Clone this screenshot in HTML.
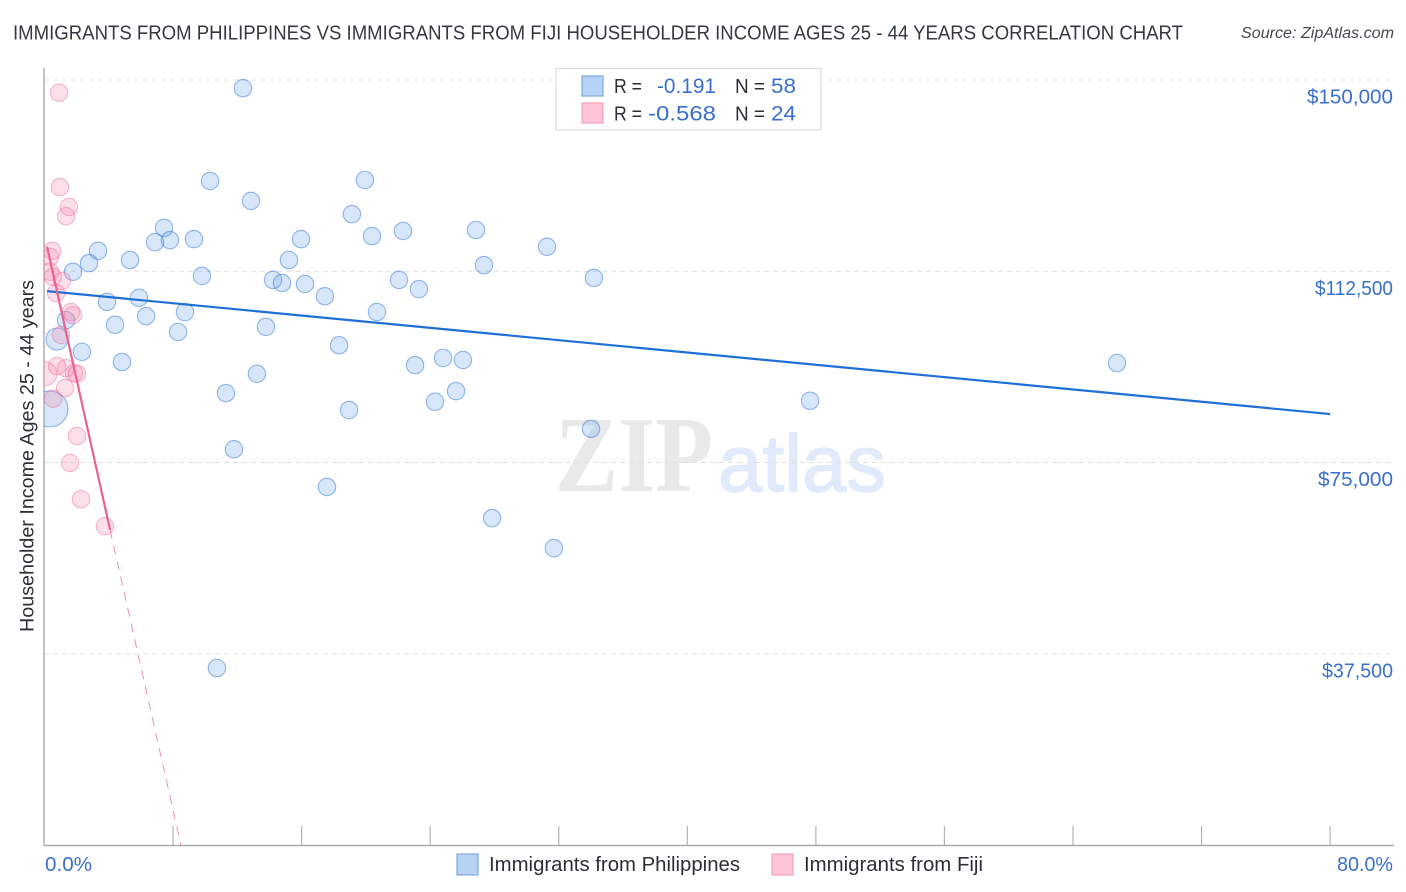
<!DOCTYPE html>
<html lang="en">
<head>
<meta charset="utf-8">
<title>Immigrants from Philippines vs Immigrants from Fiji Householder Income Correlation Chart</title>
<style>
html,body{margin:0;padding:0;background:#fff;width:1406px;height:892px;overflow:hidden}
svg{display:block}
text{font-family:"Liberation Sans",sans-serif}
</style>
</head>
<body>
<svg id="chart" xmlns="http://www.w3.org/2000/svg" width="1406" height="892" viewBox="0 0 1406 892">
  <defs>
    <clipPath id="plot-clip"><rect x="44" y="60" width="1350" height="785"/></clipPath>
  </defs>
  <rect x="0" y="0" width="1406" height="892" fill="#ffffff"/>
  <text x="13" y="39.5" font-size="20" fill="#333a41" textLength="1170" lengthAdjust="spacingAndGlyphs">IMMIGRANTS FROM PHILIPPINES VS IMMIGRANTS FROM FIJI HOUSEHOLDER INCOME AGES 25 - 44 YEARS CORRELATION CHART</text>
  <text x="1394" y="38" font-size="15.5" font-style="italic" fill="#444b52" text-anchor="end" textLength="153" lengthAdjust="spacingAndGlyphs">Source: ZipAtlas.com</text>

  <g>
    <text x="555" y="491" font-size="108" font-weight="bold" fill="#e9e9e9" textLength="158" lengthAdjust="spacingAndGlyphs" style="font-family:'Liberation Serif',serif">ZIP</text>
    <text x="718" y="491" font-size="80" fill="#e0eafa" stroke="#e0eafa" stroke-width="1.5" textLength="168" lengthAdjust="spacingAndGlyphs">atlas</text>
  </g>

  <g id="grid"></g>
  <g id="axes"></g>
  <g id="marks-blue" clip-path="url(#plot-clip)"></g>
  <g id="marks-pink" clip-path="url(#plot-clip)"></g>
  <g id="lines"></g>
  <g id="ticklabels"></g>

  <text transform="translate(33.5,456) rotate(-90)" font-size="19" fill="#2b3036" text-anchor="middle" textLength="352" lengthAdjust="spacingAndGlyphs">Householder Income Ages 25 - 44 years</text>

  <g>
    <rect x="556" y="68.5" width="265" height="61.5" fill="#ffffff" stroke="#dcdcdc" stroke-width="1.2"/>
    <rect x="582" y="76" width="21" height="20" fill="#b6d3f6" stroke="#7fa9e0" stroke-width="1.2"/>
    <rect x="582" y="103" width="21" height="20" fill="#fcc5d7" stroke="#f4a3bf" stroke-width="1.2"/>
    <text x="614" y="93" font-size="20" fill="#2b3036" textLength="28" lengthAdjust="spacingAndGlyphs">R =</text>
    <text x="716" y="93" font-size="21" fill="#3a70cc" text-anchor="end" textLength="59" lengthAdjust="spacingAndGlyphs">-0.191</text>
    <text x="735" y="93" font-size="20" fill="#2b3036" textLength="30" lengthAdjust="spacingAndGlyphs">N =</text>
    <text x="796" y="93" font-size="21" fill="#3a70cc" text-anchor="end" textLength="25" lengthAdjust="spacingAndGlyphs">58</text>
    <text x="614" y="120.5" font-size="20" fill="#2b3036" textLength="28" lengthAdjust="spacingAndGlyphs">R =</text>
    <text x="716" y="120.5" font-size="21" fill="#3a70cc" text-anchor="end" textLength="68" lengthAdjust="spacingAndGlyphs">-0.568</text>
    <text x="735" y="120.5" font-size="20" fill="#2b3036" textLength="30" lengthAdjust="spacingAndGlyphs">N =</text>
    <text x="796" y="120.5" font-size="21" fill="#3a70cc" text-anchor="end" textLength="25" lengthAdjust="spacingAndGlyphs">24</text>
  </g>

  <g>
    <g>
      <rect x="457" y="854" width="21" height="21" fill="#b6d3f6" stroke="#7fa9e0" stroke-width="1.2"/>
      <text x="489" y="871" font-size="20" fill="#2b3036" textLength="251" lengthAdjust="spacingAndGlyphs">Immigrants from Philippines</text>
    </g>
    <g>
      <rect x="772" y="854" width="21" height="21" fill="#fcc5d7" stroke="#f4a3bf" stroke-width="1.2"/>
      <text x="804" y="871" font-size="20" fill="#2b3036" textLength="179" lengthAdjust="spacingAndGlyphs">Immigrants from Fiji</text>
    </g>
  </g>
</svg>
<script>
// Chart data: x = share of immigrants (%), y = householder income ($ thousands), w = relative population weight
const blueX = [12.35,10.30,12.85,19.94,19.13,7.44,6.88,7.81,9.30,3.33,2.77,5.32,1.77,9.80,14.22,14.78,15.21,15.96,16.21,17.45,20.38,22.31,22.06,23.30,26.85,27.35,31.27,34.19,3.89,5.88,6.32,4.39,8.74,8.31,13.78,20.69,1.34,0.78,2.33,4.82,18.33,13.22,23.06,24.80,26.04,11.29,18.95,24.30,25.61,11.79,17.58,34.01,47.64,66.74,27.85,31.70,10.73,0.34];
const blueY = [148.4,130.2,126.3,130.4,123.7,121.0,118.2,118.6,118.8,116.5,114.1,114.7,112.4,111.6,110.8,110.2,114.7,118.8,110.0,107.6,119.4,120.4,110.8,109.0,120.6,113.7,117.3,111.2,106.5,107.3,103.7,102.0,104.5,100.6,101.6,104.5,102.9,99.2,96.7,94.7,98.0,92.4,94.1,95.5,95.1,88.6,85.3,86.9,89.0,77.6,70.2,81.6,87.1,94.5,64.1,58.2,34.7,85.5];
const blueW = [1,1,1,1,1,1,1,1,1,1,1,1,1,1,1,1,1,1,1,1,1,1,1,1,1,1,1,1,1,1,1,1,1,1,1,1,1,1.6,1,1,1,1,1,1,1,1,1,1,1,1,1,1,1,1,1,1,1,4.3];
const pinkX = [0.90,0.96,1.52,1.34,0.47,0.34,0.34,0.53,1.09,0.72,1.65,1.77,1.03,0.78,1.34,1.84,2.02,0.03,1.28,0.53,2.02,1.59,2.27,3.76];
const pinkY = [147.5,129.0,125.1,123.3,116.5,115.3,112.4,111.4,110.6,108.2,104.5,103.9,100.0,93.9,93.5,92.5,92.4,92.4,89.6,87.5,80.2,74.9,67.8,62.5];
const pinkW = [1,1,1,1,1,1,1,1,1,1,1,1,1,1,1,1,1,1.9,1,1,1,1,1,1];
const blueTrendX = [0.16,80];
const blueTrendY = [108.6,84.5];
const pinkTrendX = [0.16,4.08];
const pinkTrendY = [117.3,61.8];
const pinkDashX = [4.08,8.49];
const pinkDashY = [61.8,0];
const yTicks = [150,112.5,75,37.5];
const yTickLabels = ['$150,000','$112,500','$75,000','$37,500'];
const xTicks = [8,16,24,32,40,48,56,64,72,80];
const xEndLabels = ['0.0%','80.0%'];

const NS = 'http://www.w3.org/2000/svg';
const scaleX = function (v) { return 44.5 + v * 16.07; };
const scaleY = function (v) { return 845 - v * 5.1; };
// Rendered widths of the reference's label font, used only when a label matches
const labelFit = new Map([['$150,000', 86], ['$112,500', 78], ['$75,000', 75], ['$37,500', 71], ['0.0%', 47], ['80.0%', 56]]);
const fitLabel = function (el, label) {
  if (labelFit.has(label)) {
    el.setAttribute('textLength', labelFit.get(label));
    el.setAttribute('lengthAdjust', 'spacingAndGlyphs');
  }
};
const make = function (tag, parentId, attrs) {
  const el = document.createElementNS(NS, tag);
  Object.keys(attrs).forEach(function (k) { el.setAttribute(k, attrs[k]); });
  document.getElementById(parentId).appendChild(el);
  return el;
};

yTicks.forEach(function (v, i) {
  const g = make('line', 'grid', {x1: 44, x2: 1393, y1: scaleY(v), y2: scaleY(v), stroke: '#e0e0e0', 'stroke-width': 1, 'stroke-dasharray': '5 4'});
  
  
  const t = make('text', 'ticklabels', {x: 1393, y: scaleY(v) + 23.5, 'font-size': 20, fill: '#3a70cc', 'text-anchor': 'end'});
  
  
  t.textContent = yTickLabels[i];
  fitLabel(t, yTickLabels[i]);
});

const axisY = make('line', 'axes', {x1: 44, x2: 44, y1: 68, y2: 845.5, stroke: '#aaaaaa', 'stroke-width': 1.4});


const axisX = make('line', 'axes', {x1: 44, x2: 1394, y1: 845.5, y2: 845.5, stroke: '#aaaaaa', 'stroke-width': 1.4});


xTicks.forEach(function (v) {
  const tick = make('line', 'axes', {x1: scaleX(v), x2: scaleX(v), y1: 826, y2: 845, stroke: '#b4b4b4', 'stroke-width': 1.2});
  
  
});

const xStart = make('text', 'ticklabels', {x: 45, y: 871, 'font-size': 20, fill: '#3a70cc'});


xStart.textContent = xEndLabels[0];
fitLabel(xStart, xEndLabels[0]);
const xEnd = make('text', 'ticklabels', {x: 1393, y: 871, 'font-size': 20, fill: '#3a70cc', 'text-anchor': 'end'});


xEnd.textContent = xEndLabels[1];
fitLabel(xEnd, xEndLabels[1]);

blueX.forEach(function (v, i) {
  const c = make('circle', 'marks-blue', {cx: scaleX(v), cy: scaleY(blueY[i]), r: 8.7 * Math.sqrt(blueW[i]), fill: 'rgba(110,165,235,0.28)', stroke: 'rgba(45,115,215,0.5)', 'stroke-width': 1.1});
  
  
});
pinkX.forEach(function (v, i) {
  const c = make('circle', 'marks-pink', {cx: scaleX(v), cy: scaleY(pinkY[i]), r: 8.7 * Math.sqrt(pinkW[i]), fill: 'rgba(245,140,175,0.28)', stroke: 'rgba(235,105,150,0.45)', 'stroke-width': 1.1});
  
  
});

const blueTrend = make('line', 'lines', {x1: scaleX(blueTrendX[0]), y1: scaleY(blueTrendY[0]), x2: scaleX(blueTrendX[1]), y2: scaleY(blueTrendY[1]), stroke: '#1f6fd8', 'stroke-width': 2.2});


const pinkTrend = make('line', 'lines', {x1: scaleX(pinkTrendX[0]), y1: scaleY(pinkTrendY[0]), x2: scaleX(pinkTrendX[1]), y2: scaleY(pinkTrendY[1]), stroke: '#e8648f', 'stroke-width': 2.2});


const pinkDash = make('line', 'lines', {x1: scaleX(pinkDashX[0]), y1: scaleY(pinkDashY[0]), x2: scaleX(pinkDashX[1]), y2: scaleY(pinkDashY[1]), stroke: '#ec86a8', 'stroke-width': 0.9, 'stroke-dasharray': '9 7'});


</script>
</body>
</html>
